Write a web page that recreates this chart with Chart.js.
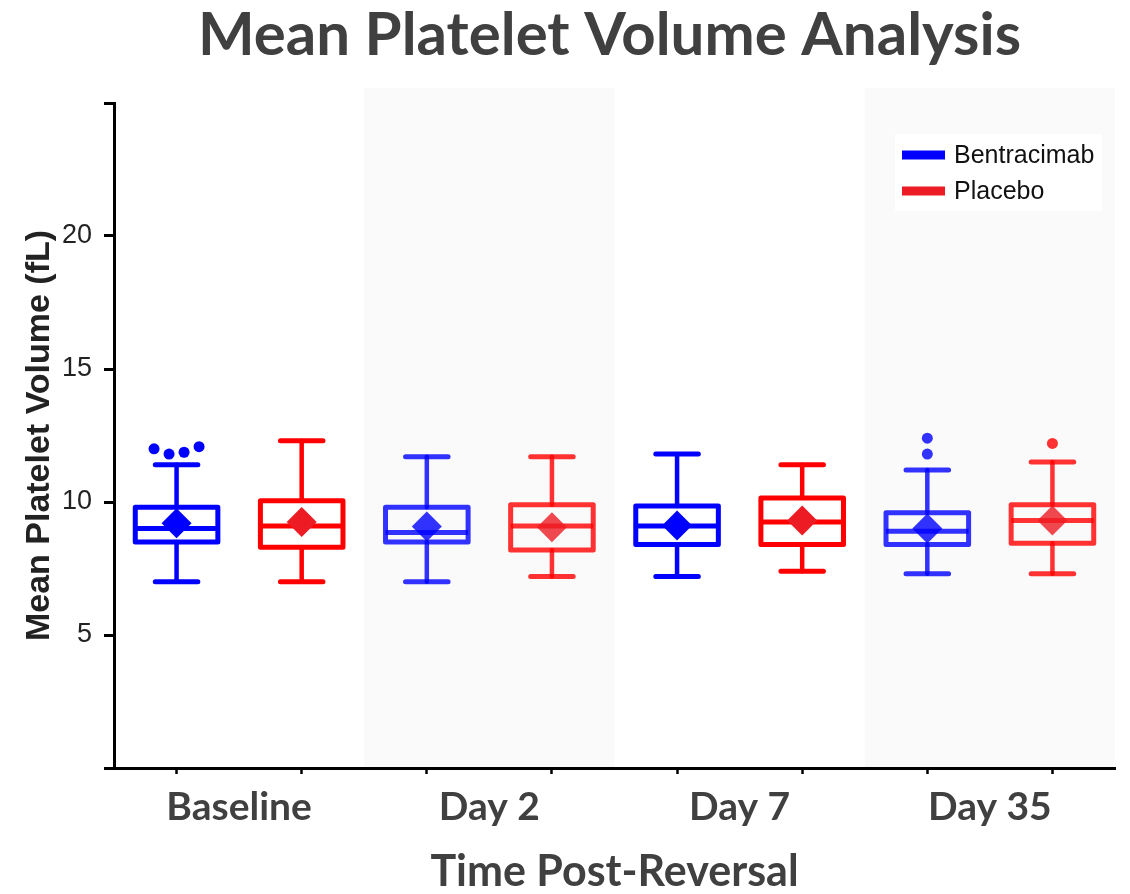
<!DOCTYPE html>
<html>
<head>
<meta charset="utf-8">
<title>Mean Platelet Volume Analysis</title>
<script src="https://cdn.jsdelivr.net/npm/chart.js@4.4.0/dist/chart.umd.min.js"></script>
<style>
  html, body { margin: 0; padding: 0; background: #fff; }
  #wrap { width: 1130px; height: 894px; position: relative; }
</style>
</head>
<body>
<div id="wrap"><canvas id="chart"></canvas></div>
<script>
const timepoints = ['Baseline', 'Day 2', 'Day 7', 'Day 35'];
const yTickLabels = [5, 10, 15, 20];

// Bentracimab
const bentMin = [7.0, 7.0, 7.2, 7.3];
const bentQ1 = [8.5, 8.5, 8.4, 8.4];
const bentMedian = [9.0, 8.85, 9.1, 8.9];
const bentQ3 = [9.8, 9.8, 9.85, 9.6];
const bentMax = [11.4, 11.7, 11.8, 11.2];
const bentMean = [9.2, 9.08, 9.12, 9.0];
const bentOutliers = [[12.0, 11.8, 11.87, 12.08], [], [], [12.4, 11.8]];

// Placebo
const placMin = [7.0, 7.2, 7.4, 7.3];
const placQ1 = [8.3, 8.2, 8.4, 8.45];
const placMedian = [9.1, 9.1, 9.25, 9.3];
const placQ3 = [10.05, 9.9, 10.15, 9.9];
const placMax = [12.3, 11.7, 11.4, 11.5];
const placMean = [9.25, 9.05, 9.3, 9.3];
const placOutliers = [[], [], [], [12.2]];

const series = [
  { name: 'Bentracimab', min: bentMin, q1: bentQ1, median: bentMedian, q3: bentQ3, max: bentMax,
    mean: bentMean, outliers: bentOutliers, line: [0, 0, 255], fill: [0, 0, 255] },
  { name: 'Placebo', min: placMin, q1: placQ1, median: placMedian, q3: placQ3, max: placMax,
    mean: placMean, outliers: placOutliers, line: [255, 0, 0], fill: [237, 28, 36] }
];

const rgba = (c, a) => `rgba(${c[0]},${c[1]},${c[2]},${a})`;
// every second timepoint sits on a grey band and is drawn a little faded
const groupAlpha = g => (g % 2 === 1 ? 0.8 : 1);
// group g, series s -> position on the x scale
const boxPos = (g, s) => 2 * g + 1 + s;

// spread crowded outliers sideways so they do not sit on top of each other
function outlierPoints(list, s) {
  const pts = [];
  list.forEach((vals, g) => {
    const crowded = vals.some((v, i) => vals.some((w, j) => i !== j && Math.abs(v - w) < 0.35));
    vals.forEach((v, k) => {
      const dx = crowded ? (k - (vals.length - 1) / 2) * 0.12 : 0;
      pts.push({ x: boxPos(g, s) + dx, y: v, g: g });
    });
  });
  return pts;
}

const xTicks = [];
timepoints.forEach((_, g) => { xTicks.push(boxPos(g, 0), boxPos(g, 0) + 0.5, boxPos(g, 1)); });

const bands = {
  id: 'bands',
  beforeDraw(chart) {
    const { ctx, chartArea, scales: { x } } = chart;
    ctx.save();
    ctx.fillStyle = '#fafafa';
    timepoints.forEach((_, g) => {
      if (g % 2 === 0) return;
      const l = x.getPixelForValue(boxPos(g, 0) - 0.5);
      const r = x.getPixelForValue(boxPos(g, 1) + 0.5);
      ctx.fillRect(l, chartArea.top - 15, r - l, chartArea.bottom - chartArea.top + 15);
    });
    ctx.restore();
  }
};

const boxes = {
  id: 'boxes',
  beforeDatasetsDraw(chart) {
    const { ctx, scales: { x, y } } = chart;
    const half = x.getPixelForValue(0.33) - x.getPixelForValue(0);
    const cap = x.getPixelForValue(0.17) - x.getPixelForValue(0);
    series.forEach((sr, s) => {
      timepoints.forEach((_, g) => {
        const cx = x.getPixelForValue(boxPos(g, s));
        const yMin = y.getPixelForValue(sr.min[g]);
        const yQ1 = y.getPixelForValue(sr.q1[g]);
        const yMed = y.getPixelForValue(sr.median[g]);
        const yQ3 = y.getPixelForValue(sr.q3[g]);
        const yMax = y.getPixelForValue(sr.max[g]);
        ctx.save();
        ctx.strokeStyle = rgba(sr.line, groupAlpha(g));
        ctx.lineCap = 'round';
        ctx.lineJoin = 'round';
        ctx.lineWidth = 4.5;
        ctx.beginPath();
        ctx.moveTo(cx, yMax); ctx.lineTo(cx, yQ3);
        ctx.moveTo(cx, yQ1); ctx.lineTo(cx, yMin);
        ctx.stroke();
        ctx.lineWidth = 5;
        ctx.beginPath();
        ctx.moveTo(cx - cap, yMax); ctx.lineTo(cx + cap, yMax);
        ctx.moveTo(cx - cap, yMin); ctx.lineTo(cx + cap, yMin);
        ctx.stroke();
        ctx.strokeRect(cx - half, yQ3, 2 * half, yQ1 - yQ3);
        ctx.lineCap = 'butt';
        ctx.beginPath();
        ctx.moveTo(cx - half, yMed); ctx.lineTo(cx + half, yMed);
        ctx.stroke();
        ctx.restore();
      });
    });
  }
};

const titleAndLegend = {
  id: 'titleAndLegend',
  afterDraw(chart) {
    const { ctx, chartArea, scales: { x } } = chart;
    ctx.save();
    ctx.fillStyle = '#404040';
    ctx.font = 'bold 60px Lato';
    ctx.textAlign = 'center';
    ctx.textBaseline = 'alphabetic';
    ctx.fillText('Mean Platelet Volume Analysis', x.getPixelForValue(4.46), 55);

    const bx = chartArea.right - 220, by = chartArea.top + 31;
    ctx.fillStyle = '#ffffff';
    ctx.fillRect(bx, by, 207, 77);
    series.forEach((sr, s) => {
      const ly = by + 21 + s * 36;
      ctx.strokeStyle = rgba(sr.fill, 1);
      ctx.lineWidth = 9;
      ctx.beginPath();
      ctx.moveTo(bx + 7, ly); ctx.lineTo(bx + 50, ly);
      ctx.stroke();
      ctx.fillStyle = '#111';
      ctx.font = '25px "Liberation Sans", Arial';
      ctx.textAlign = 'left';
      ctx.textBaseline = 'middle';
      ctx.fillText(sr.name, bx + 59, ly + 1);
    });
    ctx.restore();
  }
};

const datasets = [];
series.forEach((sr, s) => {
  datasets.push({
    label: sr.name,
    data: sr.mean.map((m, g) => ({ x: boxPos(g, s), y: m })),
    pointStyle: 'rectRot',
    pointRadius: 15,
    pointHoverRadius: 15,
    borderWidth: 0,
    backgroundColor: sr.mean.map((_, g) => rgba(sr.fill, groupAlpha(g)))
  });
  const pts = outlierPoints(sr.outliers, s);
  datasets.push({
    label: sr.name + ' outliers',
    data: pts,
    pointStyle: 'circle',
    pointRadius: 5.5,
    pointHoverRadius: 5.5,
    borderWidth: 0,
    backgroundColor: pts.map(p => rgba(sr.line, groupAlpha(p.g)))
  });
});

new Chart(document.getElementById('chart'), {
  type: 'scatter',
  data: { datasets },
  plugins: [bands, boxes, titleAndLegend],
  options: {
    responsive: true,
    maintainAspectRatio: false,
    animation: false,
    layout: { padding: { top: 103, right: 0, bottom: 0, left: 0 } },
    plugins: {
      legend: { display: false },
      tooltip: { enabled: false },
      title: { display: false }
    },
    scales: {
      x: {
        type: 'linear',
        min: 0.5,
        max: 8.5,
        afterBuildTicks: scale => { scale.ticks = xTicks.map(v => ({ value: v })); },
        afterFit: scale => { scale.height = 126; },
        ticks: {
          autoSkip: false,
          maxRotation: 0,
          padding: 10,
          color: '#404040',
          font: { family: 'Lato', weight: 'bold', size: 39 },
          callback: v => {
            const g = (v - 1.5) / 2;
            return Number.isInteger(g) ? timepoints[g] : '';
          }
        },
        grid: {
          drawOnChartArea: false,
          tickLength: 6,
          tickWidth: 2.5,
          tickColor: c => (Number.isInteger(c.tick.value) ? '#000' : 'rgba(0,0,0,0)')
        },
        border: { color: '#000', width: 3 },
        title: {
          display: true,
          text: 'Time Post-Reversal',
          color: '#404040',
          font: { family: 'Lato', weight: 'bold', size: 43, lineHeight: 1 },
          padding: { top: 0, bottom: 0 }
        }
      },
      y: {
        min: 0,
        max: 25,
        afterFit: scale => { scale.width = 114; },
        ticks: {
          stepSize: 5,
          padding: 12,
          color: '#222',
          font: { family: '"Liberation Sans", Arial', size: 27 },
          callback: v => (yTickLabels.includes(v) ? v : '')
        },
        grid: { drawOnChartArea: false, tickLength: 10, tickWidth: 3, tickColor: '#000' },
        border: { color: '#000', width: 3 },
        title: {
          display: true,
          text: 'Mean Platelet Volume (fL)',
          color: '#222',
          font: { family: '"Liberation Sans", Arial', weight: 'bold', size: 34, lineHeight: 1.2 },
          padding: { top: 19, bottom: 0 }
        }
      }
    }
  }
});
</script>
</body>
</html>
